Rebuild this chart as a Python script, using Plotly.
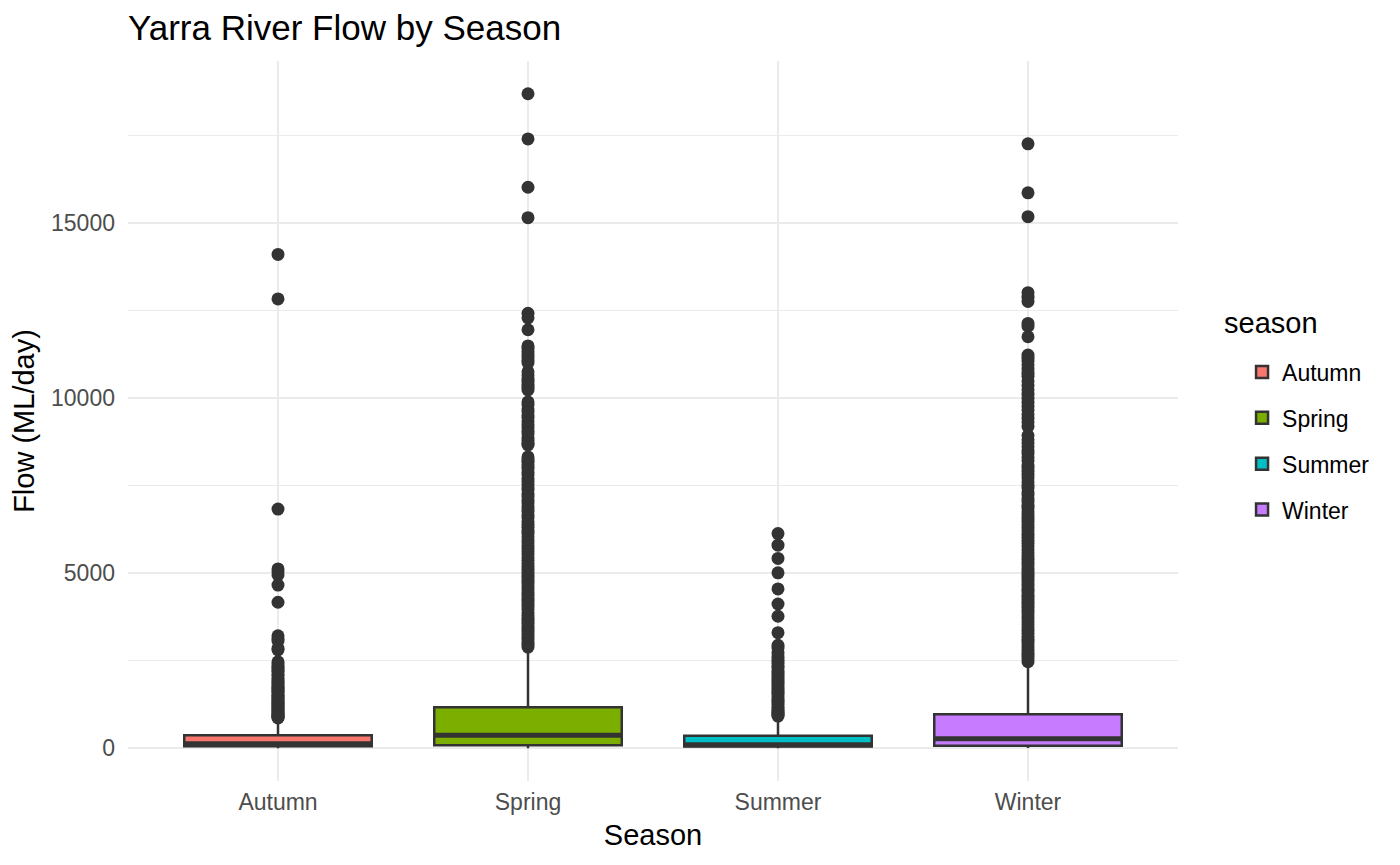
import plotly.graph_objects as go

# ---- data ----
seasons = ["Autumn", "Spring", "Summer", "Winter"]
colors = ["#F8766D", "#7CAE00", "#00BFC4", "#C77CFF"]

q1 = [55, 86, 50, 71]
median = [130, 371, 100, 271]
q3 = [375, 1171, 357, 971]
lower_fence = [3, 0, 2, 5]
upper_fence = [850, 2800, 860, 2350]

autumn_out = [14100, 12830, 6830, 5120, 5040, 4950, 4660, 4170, 3210, 3130, 3060,
              2850, 2810, 2470, 2410, 2340, 2300, 2230, 2190, 2110, 2070, 1990, 1940,
              1880, 1850, 1790, 1740, 1710, 1660, 1620, 1590, 1530, 1500, 1460, 1420,
              1370, 1340, 1300, 1270, 1230, 1190, 1160, 1130, 1100, 1070, 1040, 1010,
              985, 955, 930, 905, 885, 865]
spring_out = [18690, 17400, 16020, 15150, 12420, 12290, 11950, 11490, 11420, 11330,
              11260, 11170, 11080, 11010, 10750, 10660, 10540, 10470, 10390, 10310,
              10230, 9890, 9810, 9690, 9610, 9500, 9440, 9330, 9240, 9160, 9050, 8980,
              8870, 8790, 8710, 8660, 8320, 8230, 8170, 8060, 7990, 7880, 7810, 7700,
              7620, 7530, 7440, 7380, 7270, 7190, 7080, 7010, 6920, 6840, 6760, 6650,
              6580, 6470, 6390, 6310, 6200, 6130, 6040, 5950, 5870, 5780, 5690, 5610,
              5530, 5440, 5360, 5270, 5190, 5110, 5020, 4940, 4860, 4770, 4690, 4610,
              4520, 4440, 4370, 4280, 4200, 4110, 4040, 3960, 3870, 3790, 3710, 3630,
              3560, 3480, 3400, 3330, 3250, 3170, 3100, 3020, 2960, 2890]
summer_out = [6130, 5800, 5420, 5010, 4550, 4120, 3770, 3300, 2940, 2860, 2720, 2600,
              2510, 2430, 2350, 2290, 2200, 2140, 2060, 1990, 1920, 1860, 1790, 1730,
              1660, 1600, 1540, 1470, 1410, 1350, 1290, 1240, 1180, 1120, 1070, 1030,
              990, 950, 920]
winter_out = [17260, 15860, 15180, 13010, 12880, 12760, 12130, 12050, 11750, 11230,
              11140, 11060, 10950, 10830, 10710, 10620, 10490, 10360, 10240, 10110,
              9990, 9880, 9760, 9660, 9530, 9420, 9320, 9190, 8930, 8810, 8720, 8610,
              8500, 8420, 8300, 8210, 8090, 8000, 7910, 7800, 7720, 7610, 7520, 7430,
              7320, 7240, 7130, 7050, 6940, 6860, 6750, 6670, 6570, 6480, 6390, 6290,
              6210, 6110, 6020, 5930, 5850, 5760, 5670, 5580, 5500, 5400, 5320, 5230,
              5150, 5060, 4970, 4890, 4800, 4720, 4630, 4540, 4460, 4370, 4290, 4200,
              4120, 4030, 3950, 3860, 3780, 3700, 3610, 3530, 3440, 3360, 3280, 3190,
              3110, 3030, 2950, 2870, 2790, 2710, 2630, 2550, 2470]
outliers = [autumn_out, spring_out, summer_out, winter_out]

y_ticks = [0, 5000, 10000, 15000]
y_tick_labels = ["0", "5000", "10000", "15000"]
title = "Yarra River Flow by Season"
x_title = "Season"
y_title = "Flow (ML/day)"
legend_title = "season"

# ---- figure ----
FONT = "Liberation Sans, Arial, sans-serif"
DARK = "#333333"
box_w = 0.75
W, H = 1392, 857  # page adds an 8px body margin

fig = go.Figure()
for i, s in enumerate(seasons):
    pos = i + 1
    fig.add_trace(go.Box(
        x=[pos], q1=[q1[i]], median=[median[i]], q3=[q3[i]],
        lowerfence=[lower_fence[i]], upperfence=[upper_fence[i]],
        name=s, width=box_w, whiskerwidth=0, boxpoints=False,
        fillcolor=colors[i], line=dict(color=DARK, width=2.5),
        legendgroup=s, showlegend=True, hoverinfo="skip",
    ))
for i, s in enumerate(seasons):
    pos = i + 1
    fig.add_trace(go.Scatter(
        x=[pos - box_w / 2, pos + box_w / 2], y=[median[i], median[i]], mode="lines",
        line=dict(color=DARK, width=5), showlegend=False, hoverinfo="skip",
    ))
    fig.add_trace(go.Scatter(
        x=[pos] * len(outliers[i]), y=outliers[i], mode="markers",
        marker=dict(color=DARK, size=13, line=dict(width=0)),
        showlegend=False, hoverinfo="skip",
    ))

all_vals = [v for lst in outliers for v in lst] + lower_fence
lo, hi = min(all_vals), max(all_vals)
pad = (hi - lo) * 0.05

fig.add_annotation(
    text=legend_title, xref="paper", yref="paper", x=1.0419, y=0.636,
    xanchor="left", yanchor="middle", showarrow=False,
    font=dict(size=29, color="black", family=FONT),
)

fig.update_layout(
    width=W, height=H,
    margin=dict(l=120, r=222, t=53, b=84),
    paper_bgcolor="white", plot_bgcolor="white",
    font=dict(family=FONT, color="black"),
    title=dict(text=title, x=120 / W, xanchor="left", y=1 - 20 / H, yanchor="middle",
               font=dict(size=35, color="black")),
    showlegend=True,
    legend=dict(
        font=dict(size=23, color="black"),
        x=1.061, xanchor="left", y=0.598, yanchor="top",
        tracegroupgap=13, bgcolor="rgba(0,0,0,0)",
    ),
    xaxis=dict(
        range=[0.4, 4.6], tickmode="array", tickvals=[1, 2, 3, 4], ticktext=seasons,
        showgrid=True, gridcolor="#EBEBEB", gridwidth=2, zeroline=False,
        showline=False, ticks="", tickfont=dict(size=23, color="#4D4D4D"),
        ticklabelstandoff=5,
        title=dict(text=x_title, font=dict(size=29, color="black"), standoff=10),
    ),
    yaxis=dict(
        range=[lo - pad, hi + pad], tickmode="array", tickvals=y_ticks,
        ticktext=y_tick_labels,
        showgrid=True, gridcolor="#EBEBEB", gridwidth=2, zeroline=False,
        showline=False, ticks="", tickfont=dict(size=23, color="#4D4D4D"),
        ticklabelstandoff=12,
        minor=dict(dtick=2500, showgrid=True, gridcolor="#EBEBEB", gridwidth=1, ticks=""),
        title=dict(text=y_title, font=dict(size=29, color="black"), standoff=8),
    ),
)

fig.write_html("out.html")
